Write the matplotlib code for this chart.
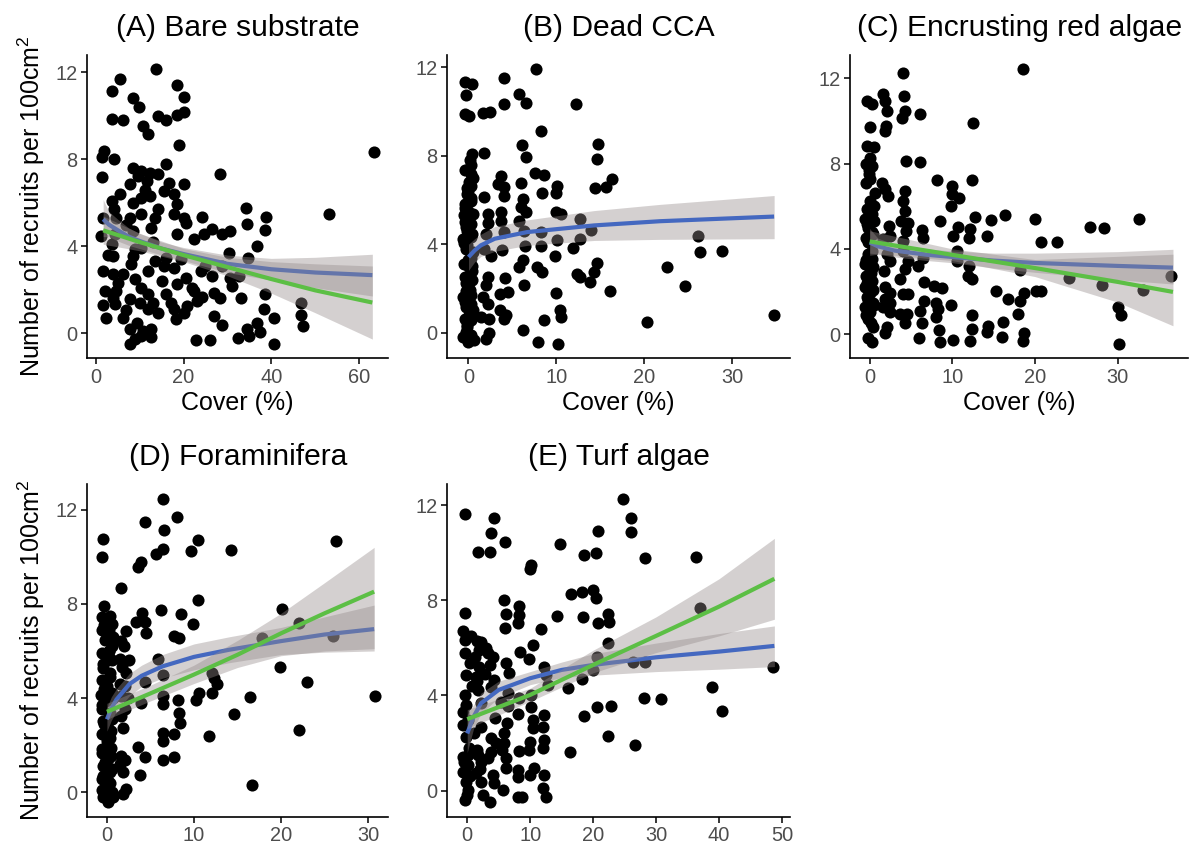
import matplotlib
matplotlib.use('Agg')
import matplotlib.pyplot as plt
from matplotlib.ticker import MultipleLocator

plt.rcParams['font.family'] = ['Liberation Sans', 'DejaVu Sans']
plt.rcParams['mathtext.fontset'] = 'custom'
plt.rcParams['mathtext.rm'] = 'Liberation Sans'
plt.rcParams['mathtext.it'] = 'Liberation Sans:italic'

##-------------------------------------------------------------
## data: cover (%) and recruits per 100 cm2
##-------------------------------------------------------------
bare_x = [13.8, 5.5, 3.8, 18.6, 20.2, 8.5, 9.8, 3.8, 6.2, 14.1, 16.0, 18.5, 20.2, 10.8, 12.0, 19.0,
          2.0, 1.4, 4.2, 63.4, 1.5, 8.5, 10.4, 12.3, 14.3, 16.0, 28.4, 20.0, 9.6, 11.7, 7.7, 16.8,
          5.5, 3.6, 8.5, 10.4, 12.3, 15.6, 17.9, 18.6, 14.1, 4.2, 1.7, 4.7, 7.7, 10.4, 13.4, 17.9,
          20.0, 20.5, 34.3, 53.2, 38.8, 24.1, 34.4, 1.2, 4.4, 8.5, 12.6, 18.6, 22.3, 24.7, 26.5, 28.8,
          30.7, 38.6, 36.7, 3.6, 10.4, 8.5, 4.0, 16.0, 19.4, 30.3, 34.6, 8.1, 13.4, 15.6, 17.9, 25.0,
          28.8, 1.6, 4.0, 6.2, 12.0, 23.9, 26.5, 30.7, 32.6, 8.9, 20.5, 18.6, 31.0, 2.1, 4.7, 10.4,
          22.0, 22.4, 12.0, 16.0, 26.9, 4.0, 33.0, 38.6, 28.4, 24.3, 7.7, 10.2, 13.0, 17.1, 1.7, 4.4,
          20.9, 23.1, 46.7, 12.0, 14.1, 17.9, 20.2, 38.4, 2.3, 6.2, 18.2, 26.9, 40.5, 46.7, 9.5, 28.8,
          47.1, 7.7, 10.8, 12.6, 36.7, 34.4, 37.4, 8.9, 10.4, 12.6, 7.7, 22.8, 26.0, 32.3, 34.8, 40.5,
          6.8, 11.2, 13.0, 9.0, 5.0, 15.0, 2.8, 7.0]
bare_y = [12.16, 11.7, 11.16, 11.4, 10.86, 10.8, 10.4, 9.86, 9.8, 9.98, 9.83, 10.06, 10.17, 9.52, 9.17, 8.65,
          8.38, 8.12, 8.0, 8.35, 7.2, 7.6, 7.46, 7.38, 7.34, 7.8, 7.35, 6.88, 7.23, 7.0, 6.85, 6.93,
          6.39, 6.09, 6.0, 6.24, 6.3, 6.54, 6.42, 5.93, 5.7, 5.7, 5.29, 5.32, 5.32, 5.47, 5.32, 5.47,
          5.32, 5.09, 5.75, 5.47, 5.35, 5.35, 5.05, 4.48, 4.56, 4.71, 4.86, 4.56, 4.33, 4.56, 4.79, 4.56,
          4.71, 4.74, 4.02, 4.13, 3.94, 3.56, 3.56, 3.49, 3.41, 3.72, 3.49, 3.18, 3.33, 3.1, 3.03, 3.1,
          3.1, 2.87, 2.72, 2.72, 2.87, 2.87, 2.65, 2.57, 2.65, 2.49, 2.54, 2.26, 2.19, 1.96, 1.96, 2.11,
          2.11, 1.96, 1.8, 1.8, 1.88, 1.65, 1.65, 1.83, 1.65, 1.68, 1.57, 1.42, 1.42, 1.42, 1.31, 1.35,
          1.27, 1.5, 1.42, 1.12, 0.96, 1.12, 0.96, 1.12, 0.73, 0.73, 0.66, 0.81, 0.7, 0.86, 0.5, 0.4,
          0.35, 0.2, 0.12, 0.2, 0.5, 0.2, 0.05, -0.26, -0.11, -0.18, -0.49, -0.29, -0.29, -0.21, -0.11, -0.49,
          5.0, 6.6, 4.2, 3.9, 2.3, 2.4, 3.6, 1.1]

cca_x = [-0.38, 0.42, -0.26, -0.38, 0.11, 0.42, 0.23, 0.3, 0.11, 0.3, -0.15, -0.38, 0.3, 0.0, -0.53, 0.49,
         -0.45, 0.3, -0.15, -0.64, 0.23, -0.26, 0.49, -0.53, 0.11, -0.38, 0.38, -0.08, -0.64, 0.3, -0.26, 0.49,
         -0.45, 0.23, -0.15, -0.64, 0.0, 0.6, -0.26, 0.3, 0.0, -0.15, 0.23, -0.26, 0.3, 0.05,
         -0.2, 0.35, -0.45, 0.15, -0.3, 0.45, -0.1, 0.25, -0.5, 0.4, -0.25, 0.1, -0.4, 0.3, -0.15, 0.5,
         -0.35, 0.2, -0.05, 0.35,
         7.74, 4.08, 5.77, 6.53, 4.08, 12.19, 1.62, 2.49, 8.23, 6.08, 6.53, 1.81, 14.72, 14.64, 7.55, 8.6,
         3.7, 4.08, 3.32, 5.96, 10.11, 10.0, 8.42, 16.34, 15.7, 14.45, 1.81, 4.08, 6.15, 5.96, 6.53, 2.19,
         3.7, 10.0, 10.49, 5.7, 2.19, 3.7, 12.64, 2.0, 4.08, 6.34, 8.23, 14.0, 10.11, 12.64, 26.15, 1.81,
         2.57, 3.81, 6.45, 8.23, 11.92, 9.85, 26.34, 28.9, 6.15, 14.64, 5.77, 7.85, 8.42, 22.64, 14.26, 12.38,
         12.75, 2.26, 4.15, 2.0, 6.34, 13.89, 24.64, 16.15, 9.92, 3.62, 4.53, 1.62, 2.19, 10.42, 3.62, 1.43,
         4.26, 10.49, 2.38, 8.6, 4.08, 20.3, 34.83, 6.26, 2.38, 2.0, 7.96, 10.23]
cca_y = [11.32, 11.25, 10.74, 9.87, 9.8, 8.07, 7.57, 7.17, 6.8, 6.65, 6.27, 5.82, 5.97, 5.52, 5.3, 5.37,
         5.0, 4.92, 4.62, 4.24, 4.32, 3.8, 3.64, 3.12, 2.97, 2.52, 2.37, 2.07, 1.62, 1.7, 1.17, 1.02,
         0.64, 0.57, 0.35, -0.18, -0.4, -0.33, 0.05, -0.1, 6.42, 3.95, 3.4, 1.9, 1.3, 0.8,
         0.25, 0.85, 1.4, 1.95, 2.25, 2.8, 3.3, 3.55, 4.05, 4.45, 4.8, 5.2, 5.65, 6.1, 6.55, 7.0,
         7.35, 7.8, 4.7, 3.0,
         11.92, 11.49, 10.77, 10.39, 10.35, 10.32, 9.94, 9.99, 9.12, 8.49, 7.96, 8.14, 8.52, 7.84, 7.2, 7.14,
         7.06, 6.57, 6.72, 6.75, 6.64, 6.3, 6.3, 6.94, 6.6, 6.54, 6.12, 6.19, 6.04, 5.67, 5.44, 5.37,
         5.44, 5.44, 5.37, 5.07, 4.95, 5.07, 5.14, 4.47, 4.54, 4.62, 4.54, 4.65, 4.17, 4.24, 4.39, 3.8,
         3.49, 3.72, 3.9, 3.9, 3.84, 3.49, 3.64, 3.69, 3.27, 3.16, 2.97, 2.97, 2.74, 2.97, 2.74, 2.67,
         2.52, 2.52, 2.49, 2.14, 2.14, 2.29, 2.1, 1.87, 1.81, 1.77, 1.84, 1.62, 1.32, 1.05, 1.02, 0.72,
         0.8, 0.72, 0.64, 0.57, 0.64, 0.5, 0.82, 0.12, -0.03, -0.26, -0.4, -0.51]

red_x = [-0.32, 0.28, 0.08, -0.32, 0.56, 0.0, -0.4, 0.28, -0.08, 0.08, -0.4, 0.08, -0.32, 0.28, -0.52, 0.48,
         -0.24, 0.28, -0.4, -0.24, 0.28, -0.52, 0.08, -0.4, 0.28, -0.52, 0.08, -0.32, 0.4, -0.52, 0.08, -0.24,
         0.4, -0.24, 0.28, 0.67,
         0.2, -0.45, 0.5, -0.15, 0.35, -0.3, 0.1, 0.45, -0.5, 0.25, -0.2, 0.4, -0.35, 0.15, 0.55, -0.1,
         4.05, 18.53, 1.67, 4.17, 1.87, 2.14, 4.25, 3.93, 6.15, 12.46, 1.98, 1.87, 4.44, 6.15, 8.13, 12.38,
         1.47, 1.87, 2.26, 4.25, 4.05, 9.92, 10.0, 10.79, 9.8, 4.25, 3.85, 4.64, 16.35, 12.78, 14.68, 20.0,
         32.54, 8.53, 26.67, 28.33, 2.38, 4.44, 6.35, 10.71, 12.18, 14.17, 10.12, 11.98, 6.51, 20.79, 22.62, 2.46,
         1.67, 4.05, 2.06, 2.46, 4.05, 4.64, 10.6, 10.6, 6.43, 5.83, 11.98, 4.25, 1.79, 18.25, 36.47, 11.9,
         12.38, 3.65, 24.09, 6.55, 28.17, 7.82, 8.73, 1.87, 2.46, 4.05, 4.64, 15.24, 33.1, 20.12, 20.79, 18.73,
         16.75, 18.25, 1.87, 2.46, 6.63, 8.02, 9.8, 1.67, 6.03, 8.21, 30.04, 30.44, 2.46, 3.65, 4.52, 12.38,
         17.94, 8.02, 6.35, 4.25, 16.15, 14.29, 12.38, 2.06, 1.87, 8.41, 14.17, 18.65, 5.95, 8.53, 10.12, 12.18,
         16.03, 18.53, 30.16]
red_y = [10.94, 10.81, 9.72, 8.83, 8.8, 8.28, 8.0, 7.89, 7.5, 7.27, 7.11, 6.25, 5.86, 5.63, 5.39, 5.31,
         5.0, 4.77, 4.53, 3.75, 3.52, 3.28, 3.05, 2.73, 2.5, 2.19, 1.95, 1.72, 1.48, 1.25, 1.02, 0.7,
         0.31, -0.19, -0.39, 6.64,
         0.5, 0.9, 1.35, 1.6, 2.05, 2.4, 2.85, 3.15, 3.5, 3.9, 4.3, 4.7, 5.15, 5.6, 6.0, 7.7,
         12.27, 12.45, 11.25, 11.2, 10.94, 10.47, 10.47, 10.16, 10.31, 9.89, 9.77, 9.53, 8.13, 8.08, 7.23, 7.23,
         7.11, 6.8, 6.48, 6.72, 6.25, 6.95, 6.56, 6.41, 6.02, 5.78, 5.31, 5.23, 5.59, 5.5, 5.34, 5.39,
         5.38, 5.31, 5.03, 5.0, 5.08, 4.84, 4.88, 5.03, 4.92, 4.61, 4.61, 4.53, 4.5, 4.34, 4.3, 4.61,
         4.45, 4.38, 3.75, 3.44, 3.91, 3.44, 3.88, 3.44, 3.56, 3.2, 3.2, 3.05, 2.97, 3.0, 2.73, 2.73,
         2.58, 2.58, 2.61, 2.45, 2.31, 2.27, 2.16, 2.19, 1.95, 1.88, 1.88, 2.03, 2.06, 2.03, 2.0, 1.92,
         1.64, 1.53, 1.64, 1.48, 1.56, 1.48, 1.38, 1.25, 1.09, 1.17, 1.28, 0.89, 1.02, 0.94, 0.94, 0.89,
         0.94, 0.81, 0.5, 0.5, 0.55, 0.39, 0.23, 0.31, 0.03, 0.19, 0.11, 0.03, -0.2, -0.39, -0.27, -0.31,
         -0.13, -0.34, -0.47]

foram_x = [-0.42, -0.53, -0.3, -0.61, 0.34, -0.61, 0.23, -0.23, 0.53, -0.61, 0.08, -0.42, 0.34, -0.61, -0.04, 0.53,
           -0.68, -0.15, -0.53, 0.34, -0.42, 0.15, -0.61, -0.04, 0.46, -0.61, 0.08, -0.42, 0.34, -0.61, -0.04, 0.53,
           -0.42, 0.15, 0.72, -0.61, 0.61, 0.61, 0.61, 0.2, -0.3, 0.4, -0.2, 0.1,
           0.3, -0.45, 0.6, -0.2, 0.45, -0.55, 0.1, 0.5, -0.35, 0.25, -0.6, 0.65, -0.1, 0.4, -0.5, 0.2,
           0.7, -0.3,
           6.43, 4.41, 8.06, 6.58, 6.46, 5.67, 10.49, 9.66, 14.22, 26.31, 3.95, 3.57, 1.6, 10.49, 6.16, 4.03,
           8.52, 20.11, 3.38, 4.33, 9.85, 22.02, 2.24, 4.52, 7.76, 8.33, 17.83, 26.0, 1.67, 1.98, 1.48, 2.51,
           5.86, 1.79, 2.24, 6.5, 12.13, 12.32, 1.48, 4.33, 2.13, 12.7, 23.04, 19.92, 1.67, 2.43, 6.5, 10.61,
           12.13, 16.43, 30.76, 3.88, 6.5, 8.14, 10.23, 2.05, 8.33, 14.6, 1.67, 8.44, 1.86, 22.09, 6.43, 6.5,
           7.76, 11.75, 3.57, 1.67, 4.41, 2.13, 7.76, 6.5, 1.56, 1.86, 3.76, 16.69, 2.24, 1.86]
foram_y = [10.77, 10.0, 7.92, 7.46, 7.49, 6.9, 6.9, 6.48, 6.2, 5.92, 5.63, 5.28, 5.07, 4.79, 4.51, 4.23,
           4.15, 3.87, 3.52, 3.38, 3.03, 2.75, 2.46, 2.18, 1.9, 1.69, 1.41, 1.13, 0.85, 0.56, 0.28, 0.0,
           -0.21, -0.39, -0.21, 0.11, 7.15, 5.63, 3.1, 6.0, 4.4, 2.3, 1.2, 0.5,
           0.4, 0.7, 1.0, 1.3, 1.55, 1.85, 2.3, 2.6, 2.9, 3.25, 3.7, 4.0, 4.35, 4.9, 5.45, 6.0,
           6.6, 7.1,
           12.44, 11.48, 11.69, 11.15, 10.35, 10.1, 10.7, 10.24, 10.28, 10.66, 9.79, 9.58, 8.69, 8.17, 7.72, 7.61,
           7.56, 7.77, 7.25, 7.23, 7.15, 7.21, 6.86, 6.76, 6.62, 6.55, 6.55, 6.62, 6.41, 6.2, 5.66, 5.63,
           5.66, 5.32, 5.07, 5.0, 5.07, 4.86, 4.58, 4.69, 4.51, 4.58, 4.69, 5.32, 4.08, 4.01, 4.11, 4.23,
           4.2, 4.04, 4.08, 3.8, 3.76, 3.9, 3.94, 3.52, 3.38, 3.34, 3.24, 2.96, 2.75, 2.63, 2.54, 2.18,
           2.46, 2.39, 1.94, 1.55, 1.52, 1.38, 1.48, 1.38, 1.2, 0.85, 0.75, 0.31, 0.14, -0.07]

turf_x = [-0.32, 24.75, 26.07, 4.22, 3.8, 26.07, 20.79, 1.69, 3.69, 6.02, 14.72, 18.58, 20.42, 28.18, 36.36, 10.13,
          9.92, 16.46, 18.21, 20.05, 20.42, 5.8, -0.42, 8.18, 6.23, 8.28, 14.25, 18.42, 22.43, 22.53, 20.79, 36.94,
          8.02, 6.02, 11.72, -0.69, -0.32, 1.58, 2.22, -0.32, 1.95, 3.27, 4.06, 10.4, 22.32, 8.44, 9.87, 20.69,
          26.39, 28.18, 0.47, 1.95, 3.54, 6.17, 6.7, -0.16, 1.42, 12.24, 12.5, 20.05, 48.65, 4.33, 18.21, 12.77,
          3.8, 16.09, 38.89, 1.69, -0.42, 6.44, 8.28, 10.13, 28.07, 30.82, 2.22, 5.38, 10.13, 20.69, 22.8, 40.47,
          -0.69, 6.44, 8.02, 12.14, 18.58, 0.11, 4.43, 10.4, 6.33, -0.69, 2.22, 11.98, 10.4, 5.91, -0.16, 3.8,
          22.43, 12.24, 10.03, 5.91, 26.65, 1.58, 3.8, 5.54, 8.18, 9.76, 11.98, 16.36, -0.69, 1.79, 3.27, 6.17,
          0.11, 2.22, 6.17, 8.02, 10.55, -0.69, 1.42, 4.06, 8.02, 10.03, 12.14, -0.16, 2.22, 4.33, 5.65, 11.98,
          0.11, 2.48, 8.02, 8.71, 12.5, -0.32, 3.69, 0.0,
          0.5, -0.5, 0.3, 1.0, -0.2, 0.8, 2.8, 1.2, 3.0, 0.6, 2.0, 4.5, 1.5, 0.2]
turf_y = [11.61, 12.24, 11.44, 11.44, 10.81, 10.88, 10.92, 10.04, 10.04, 10.46, 10.35, 9.9, 10.0, 9.79, 9.83, 9.48,
          9.3, 8.25, 8.33, 8.43, 8.08, 8.01, 7.45, 7.77, 7.42, 7.38, 7.35, 7.28, 7.42, 7.07, 7.03, 7.69,
          7.06, 6.82, 6.78, 6.72, 6.33, 6.29, 6.26, 5.77, 5.91, 5.77, 5.63, 6.12, 6.22, 5.81, 5.53, 5.6,
          5.42, 5.42, 5.35, 5.21, 5.28, 5.35, 4.93, 4.86, 4.79, 5.21, 4.86, 5.07, 5.18, 4.65, 4.68, 4.44,
          4.37, 4.33, 4.34, 4.23, 4.02, 4.09, 3.88, 4.02, 3.91, 3.84, 3.67, 3.74, 3.53, 3.53, 3.57, 3.36,
          3.32, 3.56, 3.21, 3.18, 3.15, 2.97, 3.04, 2.97, 2.86, 2.76, 2.69, 2.69, 2.62, 2.41, 2.27, 2.2,
          2.3, 2.13, 2.06, 2.02, 1.92, 1.71, 1.64, 1.71, 1.67, 1.71, 1.78, 1.64, 1.43, 1.5, 1.36, 1.36,
          1.08, 1.22, 0.94, 0.87, 0.94, 0.8, 0.73, 0.66, 0.59, 0.66, 0.66, 0.38, 0.38, 0.31, 0.03, 0.1,
          0.03, -0.18, -0.25, -0.25, -0.25, -0.39, -0.46, -0.18,
          0.6, 1.2, 1.8, 2.4, 3.6, 4.4, 4.9, 5.6, 6.0, 6.5, 0.9, 2.0, 4.6, 1.5]

##-------------------------------------------------------------
## fitted curves and 95% bands
## blue = saturating (log) model, green = linear-predictor model
##-------------------------------------------------------------
bare_blue_x = [1.7, 3, 5, 7.5, 10, 15, 20, 30, 40, 50, 63]
bare_blue = [5.25, 5.0, 4.75, 4.45, 4.25, 3.9, 3.65, 3.2, 2.95, 2.8, 2.68]
bare_blue_lo = [4.45, 4.45, 4.25, 4.05, 3.9, 3.6, 3.35, 2.8, 2.45, 2.1, 1.72]
bare_blue_hi = [6.15, 5.6, 5.25, 4.85, 4.6, 4.2, 3.95, 3.6, 3.45, 3.5, 3.64]
bare_green_x = [1.7, 10, 20, 30, 40, 50, 63]
bare_green = [4.74, 4.2, 3.6, 3.05, 2.5, 1.98, 1.42]
bare_green_lo = [4.1, 3.8, 3.3, 2.65, 1.85, 0.95, -0.26]
bare_green_hi = [5.4, 4.6, 3.9, 3.5, 3.3, 3.2, 3.1]

cca_blue_x = [0, 0.7, 1.4, 3, 6.7, 14.3, 21.8, 34.8]
cca_blue = [3.42, 3.72, 3.95, 4.25, 4.55, 4.85, 5.04, 5.25]
cca_blue_lo = [2.82, 3.2, 3.45, 3.68, 3.95, 4.17, 4.22, 4.25]
cca_blue_hi = [4.0, 4.25, 4.45, 4.8, 5.1, 5.52, 5.8, 6.2]

red_blue_x = [0, 1, 3, 7, 10, 15, 20, 30, 36.7]
red_blue = [4.3, 4.12, 3.92, 3.72, 3.62, 3.45, 3.34, 3.2, 3.12]
red_blue_lo = [3.7, 3.75, 3.62, 3.45, 3.35, 3.1, 2.9, 2.55, 2.35]
red_blue_hi = [4.95, 4.5, 4.22, 4.0, 3.9, 3.8, 3.8, 3.87, 3.98]
red_green_x = [0, 10, 20, 30, 36.7]
red_green = [4.35, 3.72, 3.1, 2.45, 1.98]
red_green_lo = [3.8, 3.45, 2.7, 1.5, 0.39]
red_green_hi = [4.85, 4.0, 3.5, 3.65, 3.75]

foram_blue_x = [0, 0.5, 1.1, 2.6, 4, 6.4, 10, 14, 20, 25, 30.7]
foram_blue = [3.1, 3.55, 3.94, 4.6, 4.95, 5.35, 5.75, 6.05, 6.42, 6.7, 6.93]
foram_blue_lo = [2.6, 3.05, 3.45, 4.1, 4.5, 4.85, 5.2, 5.5, 5.85, 5.95, 6.0]
foram_blue_hi = [3.6, 4.05, 4.4, 5.05, 5.4, 5.85, 6.3, 6.6, 7.0, 7.45, 7.95]
foram_green_x = [0, 5, 10, 15, 20, 25, 30.7]
foram_green = [3.42, 4.2, 5.0, 5.84, 6.75, 7.6, 8.52]
foram_green_lo = [3.1, 3.88, 4.62, 5.3, 5.8, 6.0, 6.1]
foram_green_hi = [3.78, 4.55, 5.4, 6.45, 7.6, 8.9, 10.4]

turf_blue_x = [0, 1, 2.2, 5, 10, 15, 20, 30, 40, 48.8]
turf_blue = [2.4, 3.1, 3.67, 4.23, 4.72, 5.07, 5.28, 5.6, 5.84, 6.08]
turf_blue_lo = [1.6, 2.6, 3.25, 3.9, 4.45, 4.75, 4.85, 5.0, 5.1, 5.21]
turf_blue_hi = [3.2, 3.6, 4.1, 4.6, 5.0, 5.4, 5.75, 6.2, 6.6, 6.92]
turf_green_x = [0, 10, 20, 30, 40, 48.8]
turf_green = [3.0, 4.02, 5.28, 6.5, 7.73, 8.9]
turf_green_lo = [2.6, 3.75, 4.95, 5.8, 6.5, 7.2]
turf_green_hi = [3.4, 4.3, 5.9, 7.3, 8.9, 10.6]

titles = ['(A) Bare substrate', '(B) Dead CCA', '(C) Encrusting red algae',
          '(D) Foraminifera', '(E) Turf algae']
ylab = 'Number of recruits per 100cm$^{2}$'

BAND = '#958B8B'
BLUE = '#4468C0'
GREEN = '#5CBF45'


##-------------------------------------------------------------
def draw_panel(ax, x, y, title, xstep, blue=None, green=None, xlabel=True, ylabel=True):
    """
    scatter + fitted curves, ggplot theme_classic look
    """
    ax.scatter(x, y, s=76, color='black', linewidths=0, zorder=2)

    if blue is not None:
        bx, bf, blo, bhi = blue
        ax.fill_between(bx, blo, bhi, color=BAND, alpha=0.4, linewidth=0, zorder=3)
        ax.plot(bx, bf, color=BLUE, lw=3, solid_capstyle='butt', zorder=4)
    if green is not None:
        gx, gf, glo, ghi = green
        ax.fill_between(gx, glo, ghi, color=BAND, alpha=0.4, linewidth=0, zorder=5)
        ax.plot(gx, gf, color=GREEN, lw=3, solid_capstyle='butt', zorder=6)

    ax.margins(x=0.05, y=0.05)
    ax.xaxis.set_major_locator(MultipleLocator(xstep))
    ax.yaxis.set_major_locator(MultipleLocator(4))

    for s in ['top', 'right']:
        ax.spines[s].set_visible(False)
    for s in ['left', 'bottom']:
        ax.spines[s].set_linewidth(1.2)
    ax.tick_params(direction='out', length=4, width=1.1, labelsize=14.4,
                   labelcolor='#4D4D4D', pad=3)

    ax.set_title(title, fontsize=21.6, pad=14)
    if xlabel:
        ax.set_xlabel('Cover (%)', fontsize=18, labelpad=3)
    if ylabel:
        ax.set_ylabel(ylab, fontsize=18, labelpad=6)


##-------------------------------------------------------------
fig = plt.figure(figsize=(11.96, 8.48), dpi=100)

axA = fig.add_axes([0.073, 0.578, 0.2512, 0.357])
axB = fig.add_axes([0.374, 0.578, 0.2865, 0.357])
axC = fig.add_axes([0.7107, 0.578, 0.2829, 0.357])
axD = fig.add_axes([0.073, 0.037, 0.2517, 0.392])
axE = fig.add_axes([0.374, 0.037, 0.2865, 0.392])

draw_panel(axA, bare_x, bare_y, titles[0], 20,
           blue=(bare_blue_x, bare_blue, bare_blue_lo, bare_blue_hi),
           green=(bare_green_x, bare_green, bare_green_lo, bare_green_hi))
draw_panel(axB, cca_x, cca_y, titles[1], 10,
           blue=(cca_blue_x, cca_blue, cca_blue_lo, cca_blue_hi), ylabel=False)
draw_panel(axC, red_x, red_y, titles[2], 10,
           blue=(red_blue_x, red_blue, red_blue_lo, red_blue_hi),
           green=(red_green_x, red_green, red_green_lo, red_green_hi), ylabel=False)
draw_panel(axD, foram_x, foram_y, titles[3], 10,
           blue=(foram_blue_x, foram_blue, foram_blue_lo, foram_blue_hi),
           green=(foram_green_x, foram_green, foram_green_lo, foram_green_hi), xlabel=False)
draw_panel(axE, turf_x, turf_y, titles[4], 10,
           blue=(turf_blue_x, turf_blue, turf_blue_lo, turf_blue_hi),
           green=(turf_green_x, turf_green, turf_green_lo, turf_green_hi),
           xlabel=False, ylabel=False)

plt.savefig('out.png', dpi=100)
